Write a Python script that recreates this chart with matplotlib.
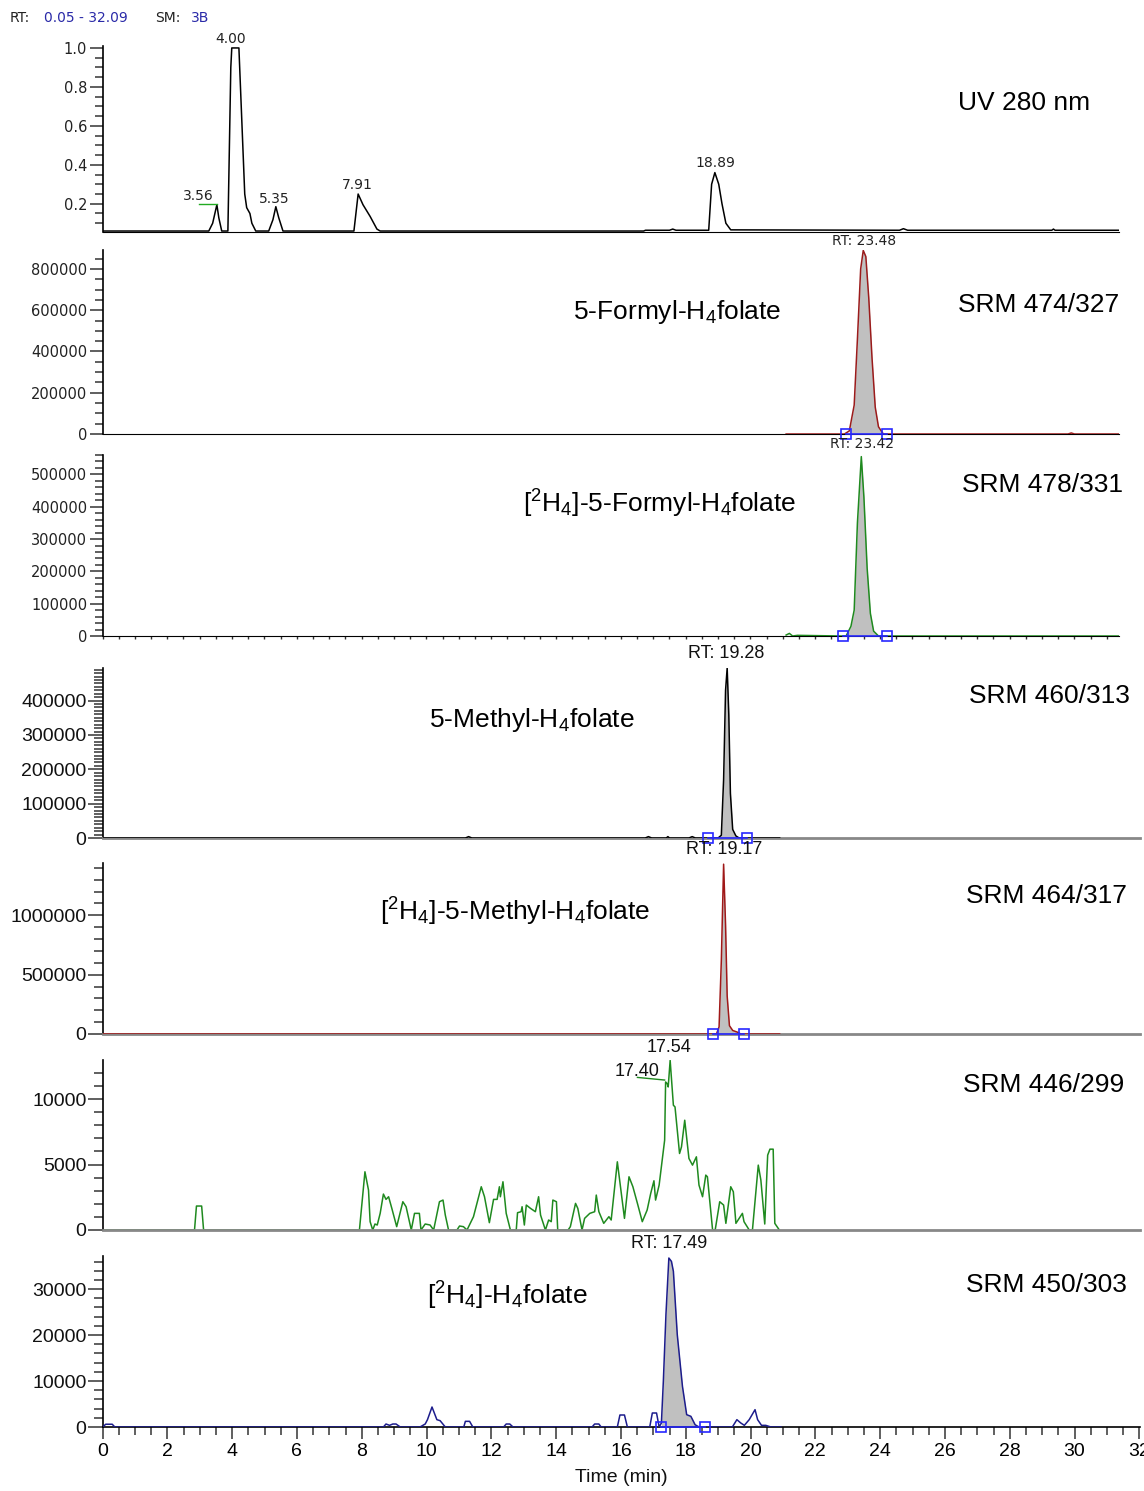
import numpy as np
import matplotlib
matplotlib.use('Agg')
import matplotlib.pyplot as plt
from matplotlib.ticker import MultipleLocator

plt.rcParams['font.family'] = ['Liberation Sans', 'DejaVu Sans']
plt.rcParams['mathtext.default'] = 'regular'

# ---- data (time in min, intensity) ----
uv_t = [0.0, 3.2, 3.28, 3.4, 3.53, 3.59, 3.68, 3.87, 3.96, 3.99, 4.21, 4.39, 4.45, 4.55, 4.61, 4.73,
        5.13, 5.26, 5.35, 5.44, 5.57, 7.76, 7.89, 8.04, 8.26, 8.47, 8.57, 16.7, 16.76, 17.5, 17.6, 17.7,
        18.71, 18.8, 18.9, 19.02, 19.12, 19.24, 19.39, 24.6, 24.72, 24.85, 29.3, 29.35, 29.4, 31.4]
uv_v = [0.06, 0.06, 0.06, 0.10, 0.195, 0.128, 0.06, 0.06, 0.90, 1.0, 1.0, 0.25, 0.18, 0.15, 0.10, 0.06,
        0.06, 0.118, 0.185, 0.128, 0.06, 0.06, 0.25, 0.195, 0.135, 0.07, 0.06, 0.06, 0.064, 0.064, 0.07, 0.064,
        0.064, 0.30, 0.36, 0.30, 0.20, 0.10, 0.066, 0.064, 0.072, 0.064, 0.064, 0.07, 0.064, 0.064]

f474_t = [21.1, 22.9, 23.05, 23.2, 23.3, 23.4, 23.48, 23.56, 23.65, 23.75, 23.85, 23.95, 24.1, 29.8, 29.9, 30.0, 31.4]
f474_v = [0, 0, 15000, 140000, 460000, 800000, 890000, 860000, 660000, 370000, 130000, 35000, 0, 0, 5000, 0, 0]
f474_bounds = [22.95, 24.2]

f478_t = [21.1, 21.2, 21.3, 21.45, 22.8, 22.95, 23.1, 23.2, 23.3, 23.42, 23.5, 23.6, 23.7, 23.8, 23.95, 31.4]
f478_v = [3000, 8000, 0, 2000, 0, 0, 30000, 80000, 350000, 555000, 430000, 210000, 70000, 15000, 0, 0]
f478_bounds = [22.85, 24.2]

m460_t = [0, 11.2, 11.3, 11.4, 16.75, 16.85, 16.95, 17.4, 17.45, 17.5, 18.1, 18.2, 18.3,
          19.0, 19.1, 19.17, 19.23, 19.28, 19.33, 19.38, 19.45, 19.55, 19.65, 20.9]
m460_v = [0, 0, 4000, 0, 0, 4000, 0, 0, 4000, 0, 0, 4000, 0,
          0, 8000, 170000, 430000, 495000, 360000, 130000, 25000, 6000, 0, 0]
m460_bounds = [18.7, 19.88]

m464_t = [0, 18.95, 19.03, 19.1, 19.17, 19.23, 19.28, 19.35, 19.45, 19.6, 19.7, 20.9]
m464_v = [0, 0, 60000, 620000, 1430000, 920000, 320000, 70000, 30000, 15000, 0, 0]
m464_bounds = [18.83, 19.81]

s446_t = [0, 2.84, 2.9, 3.06, 3.12, 7.93, 8.10, 8.21, 8.26, 8.34, 8.41, 8.48, 8.57, 8.67, 8.75, 8.83, 8.93,
          9.08, 9.27, 9.37, 9.53, 9.63, 9.78, 9.83, 9.96, 10.11, 10.22, 10.40, 10.51, 10.58, 10.68, 10.94,
          11.02, 11.14, 11.25, 11.45, 11.69, 11.79, 11.94, 12.07, 12.18, 12.25, 12.28, 12.36, 12.46, 12.59,
          12.77, 12.81, 12.92, 12.95, 13.02, 13.08, 13.21, 13.36, 13.46, 13.52, 13.67, 13.77, 13.85, 13.90,
          14.01, 14.05, 14.24, 14.37, 14.44, 14.60, 14.67, 14.80, 14.88, 15.04, 15.19, 15.24, 15.32, 15.47,
          15.63, 15.70, 15.89, 16.11, 16.25, 16.37, 16.51, 16.66, 16.81, 16.92, 17.02, 17.07, 17.18, 17.35,
          17.38, 17.43, 17.46, 17.52, 17.62, 17.67, 17.81, 17.87, 17.97, 18.10, 18.21, 18.33, 18.41, 18.52,
          18.62, 18.67, 18.83, 18.91, 19.05, 19.17, 19.24, 19.39, 19.47, 19.55, 19.75, 19.80, 19.96, 20.06,
          20.24, 20.32, 20.44, 20.53, 20.60, 20.70, 20.75, 20.89]
s446_v = [0, 0, 1830, 1830, 0, 0, 4445, 3048, 635, 0, 457, 381, 1270, 2743, 2337, 2540, 1651,
          254, 2159, 1778, 0, 1270, 1270, 0, 457, 381, 0, 2159, 2286, 1143, 0, 0,
          305, 254, 0, 1016, 3302, 2540, 559, 2337, 2337, 3302, 2540, 3683, 1270, 0,
          0, 1321, 1397, 1778, 381, 1905, 1651, 1397, 2540, 1143, 0, 762, 635, 2286,
          2159, 0, 0, 0, 254, 2032, 1651, 0, 889, 1270, 1397, 2667, 1397, 508,
          1016, 762, 5207, 889, 4064, 3302, 2032, 635, 1524, 2794, 3759, 2286, 3429, 6858,
          11303, 11176, 10922, 12954, 9525, 9398, 5842, 6350, 8382, 5461, 4953, 5588, 3429, 2540,
          4191, 4064, 0, 0, 2159, 1905, 508, 3302, 2921, 508, 1270, 635, 0, 0,
          4953, 3810, 457, 5715, 6172, 6172, 508, 0]

h450_t = [0, 0.1, 0.3, 0.38, 8.67, 8.75, 8.86, 8.96, 9.06, 9.19, 9.80, 9.96, 10.03, 10.17, 10.32, 10.42,
          10.58, 11.15, 11.20, 11.33, 11.43, 12.38, 12.46, 12.57, 12.67, 15.11, 15.19, 15.32, 15.39, 15.89,
          15.97, 16.11, 16.20, 16.89, 16.97, 17.10, 17.18, 17.25, 17.31, 17.39, 17.48, 17.56, 17.62, 17.74,
          17.90, 18.03, 18.16, 18.29, 18.41, 19.44, 19.58, 19.70, 19.81, 19.96, 20.14, 20.22, 20.34, 20.47,
          20.63, 20.94]
h450_v = [0, 600, 600, 0, 0, 650, 360, 650, 650, 0, 0, 650, 1595, 4350, 1595, 1378,
          0, 0, 1233, 1233, 0, 0, 650, 650, 0, 0, 650, 650, 0, 0,
          2610, 2610, 0, 0, 3045, 3045, 0, 870, 9930, 24430, 36760, 36030, 33860, 20080,
          8845, 2680, 2320, 500, 0, 0, 1595, 870, 360, 1595, 3770, 1595, 360, 360,
          0, 0]
h450_bounds = [17.25, 18.6]

# ---- layout helpers (pixel boxes of the original figure) ----
W, H = 1144, 1491
PX_MIN = 32.4
X0 = 102.5


def box(top, bottom, right):
    return [X0 / W, 1 - bottom / H, (right - X0) / W, (bottom - top) / H]


def ftext(x, y, s, **kw):
    fig.text(x / W, 1 - y / H, s, **kw)


fig = plt.figure(figsize=(W / 100, H / 100), dpi=100)

small = dict(family=['DejaVu Sans'], fontsize=10, color='#222222')
big = dict(fontsize=19, color='black')
mid = dict(fontsize=13, color='#111111')
fill_c = '#c0c0c0'
sq_c = '#2828ff'
blue_txt = '#2a2aa8'


def base_axes(top, bottom, right, top_style):
    ax = fig.add_axes(box(top, bottom, right))
    ax.set_xlim(0, (right - X0) / PX_MIN)
    for s in ['top', 'right']:
        ax.spines[s].set_visible(False)
    ax.spines['left'].set_linewidth(1.2)
    if top_style:
        ax.tick_params(axis='y', which='major', length=9.5, width=1.2, color='#444444', pad=1.5,
                       labelsize=10.5, labelcolor='#222222')
        ax.tick_params(axis='y', which='minor', length=5.7, width=1.2, color='#444444')
    else:
        ax.tick_params(axis='y', which='major', length=11, width=1.2, color='#444444', pad=0.5,
                       labelsize=14, labelcolor='#111111')
        ax.tick_params(axis='y', which='minor', length=6.5, width=1.2, color='#444444')
    ax.tick_params(axis='x', which='both', bottom=False, labelbottom=False)
    return ax


def set_y(ax, ticks, labels, minor, ylim, top_style):
    ax.set_ylim(*ylim)
    ax.set_yticks(ticks, labels)
    ax.yaxis.set_minor_locator(MultipleLocator(minor))
    if top_style:
        for lab in ax.get_yticklabels():
            lab.set_family('DejaVu Sans')


def trace(ax, t, v, color, bounds=None):
    ax.plot(t, v, color=color, lw=1.1, zorder=3)
    if bounds is not None:
        ta, va = np.array(t), np.array(v)
        m = (ta >= bounds[0]) & (ta <= bounds[1])
        ax.fill_between(ta[m], va[m], 0, color=fill_c, lw=0, zorder=2)
        ax.plot(bounds, [0, 0], color=sq_c, lw=1.2, marker='s', ms=7, mfc='none',
                mec=sq_c, mew=1.2, zorder=4, clip_on=False)


# ---- panel 1: UV ----
ax1 = base_axes(46, 232, 1119, True)
ax1.plot(uv_t, uv_v, color='black', lw=1.1)
ax1.plot([2.97, 3.53], [0.2, 0.2], color='#22aa22', lw=1)
set_y(ax1, [0.2, 0.4, 0.6, 0.8, 1.0], ['0.2', '0.4', '0.6', '0.8', '1.0'], 0.05, (0.055, 1.01), True)

# ---- panel 2 ----
ax2 = base_axes(250, 434, 1119, True)
trace(ax2, f474_t, f474_v, '#9b1b1b', f474_bounds)
set_y(ax2, [0, 200000, 400000, 600000, 800000], ['0', '200000', '400000', '600000', '800000'],
      50000, (0, 892000), True)

# ---- panel 3 ----
ax3 = base_axes(455, 636, 1119, True)
trace(ax3, f478_t, f478_v, '#1f8a1f', f478_bounds)
set_y(ax3, [0, 100000, 200000, 300000, 400000, 500000],
      ['0', '100000', '200000', '300000', '400000', '500000'], 20000, (0, 560000), True)
ax3.xaxis.set_major_locator(MultipleLocator(0.5))
ax3.tick_params(axis='x', which='major', bottom=True, length=2.5, width=1, color='#333333')

# ---- panel 4 ----
ax4 = base_axes(668, 838, 1140, False)
trace(ax4, m460_t, m460_v, 'black', m460_bounds)
set_y(ax4, [0, 100000, 200000, 300000, 400000], ['0', '100000', '200000', '300000', '400000'],
      10000, (0, 495000), False)

# ---- panel 5 ----
ax5 = base_axes(863, 1034, 1140, False)
trace(ax5, m464_t, m464_v, '#a01818', m464_bounds)
set_y(ax5, [0, 500000, 1000000], ['0', '500000', '1000000'], 100000, (0, 1440000), False)

# ---- panel 6 ----
ax6 = base_axes(1060, 1230, 1140, False)
ax6.plot(s446_t, s446_v, color='#1f8a1f', lw=1.1)
ax6.plot([16.51, 17.35], [11650, 11450], color='#1f8a1f', lw=1)
set_y(ax6, [0, 5000, 10000], ['0', '5000', '10000'], 1000, (0, 12980), False)

for ax in (ax4, ax5, ax6):
    ax.spines['bottom'].set_color('#888888')
    ax.spines['bottom'].set_linewidth(2)

# ---- panel 7 ----
ax7 = base_axes(1256, 1427, 1140, False)
trace(ax7, h450_t, h450_v, '#1c1c8c', h450_bounds)
set_y(ax7, [0, 10000, 20000, 30000], ['0', '10000', '20000', '30000'], 2000, (0, 37200), False)
ax7.set_xticks(np.arange(0, 33, 2), [str(v) for v in range(0, 33, 2)])
ax7.xaxis.set_minor_locator(MultipleLocator(0.5))
ax7.tick_params(axis='x', which='major', bottom=True, labelbottom=True, length=8.5, width=1.2,
                color='#444444', labelsize=14, pad=3)
ax7.tick_params(axis='x', which='minor', bottom=True, length=5.5, width=1.2, color='#444444')
ax7.spines['bottom'].set_linewidth(1.2)

# ---- texts ----
ftext(10, 18, 'RT:', va='center', **small)
ftext(44, 18, '0.05 - 32.09', va='center', family=['DejaVu Sans'], fontsize=10, color=blue_txt)
ftext(155, 18, 'SM:', va='center', **small)
ftext(191, 18, '3B', va='center', family=['DejaVu Sans'], fontsize=10, color=blue_txt)

for x, y, s in [(231, 39, '4.00'), (198, 196, '3.56'), (274, 199, '5.35'), (357, 185, '7.91'),
                (715, 163, '18.89'), (864, 241, 'RT: 23.48'), (862, 444, 'RT: 23.42')]:
    ftext(x, y, s, ha='center', va='center', **small)

for x, y, s in [(726, 654, 'RT: 19.28'), (724, 850, 'RT: 19.17'), (669, 1047, '17.54'),
                (637, 1071, '17.40'), (669, 1243, 'RT: 17.49')]:
    ftext(x, y, s, ha='center', va='center', **mid)

for x, y, s in [(1090, 103, 'UV 280 nm'), (1119, 305, 'SRM 474/327'), (1123, 485, 'SRM 478/331'),
                (1130, 696, 'SRM 460/313'), (1127, 896, 'SRM 464/317'), (1124, 1085, 'SRM 446/299'),
                (1127, 1285, 'SRM 450/303')]:
    ftext(x, y, s, ha='right', va='center', **big)

for x, y, s in [(677, 312, r'5-Formyl-H$_4$folate'),
                (660, 504, r'[$^2$H$_4$]-5-Formyl-H$_4$folate'),
                (532, 720, r'5-Methyl-H$_4$folate'),
                (515, 912, r'[$^2$H$_4$]-5-Methyl-H$_4$folate'),
                (507, 1296, r'[$^2$H$_4$]-H$_4$folate')]:
    ftext(x, y, s, ha='center', va='center', **big)

ftext(621, 1477, 'Time (min)', ha='center', va='center', fontsize=14, color='#111111')

fig.savefig('out.png', dpi=100)
